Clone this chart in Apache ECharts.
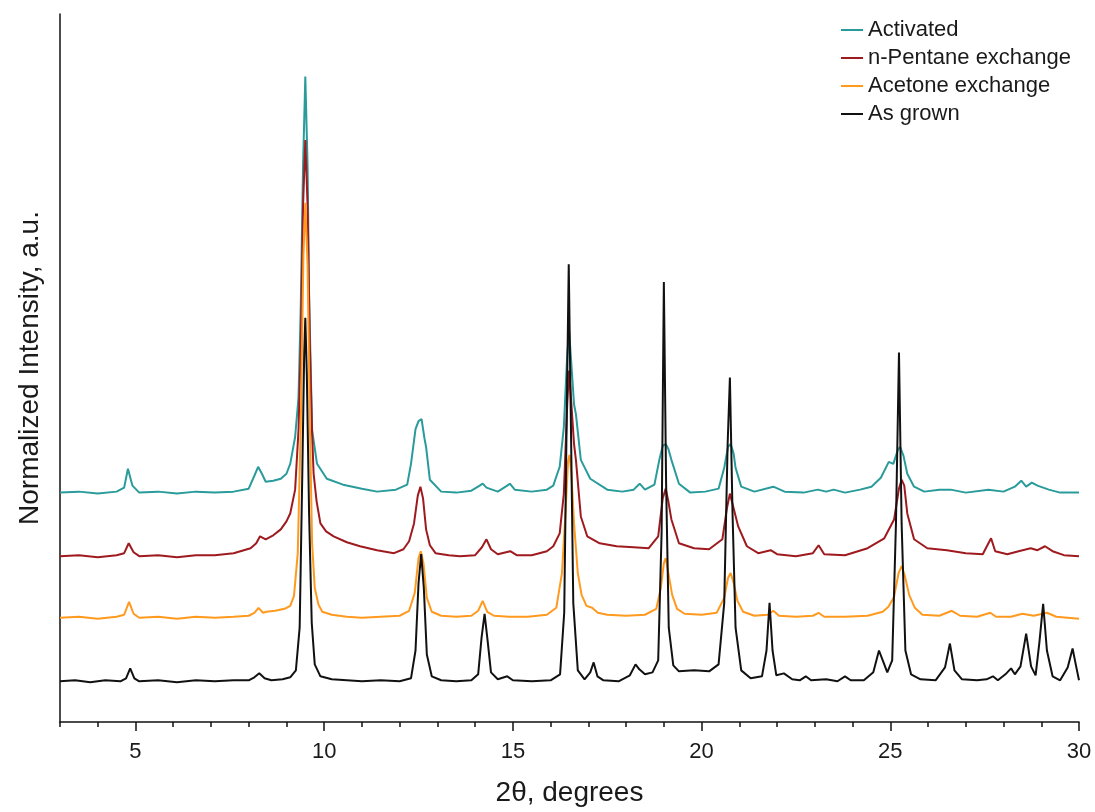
<!DOCTYPE html>
<html>
<head>
<meta charset="utf-8">
<script src="https://cdn.jsdelivr.net/npm/echarts@6/dist/echarts.min.js"></script>
<style>
  html, body { margin: 0; padding: 0; background: #fff; }
  #chart { width: 1095px; height: 812px; }
</style>
</head>
<body>
<div id="chart"></div>
<script>
// 2θ positions (degrees) and intensities (a.u.); patterns are already offset
const activated = [
  [3.0,231],[3.5,232],[4.0,230],[4.5,232],[4.7,236],[4.8,255],[4.92,238],[5.1,231],[5.6,232],[6.1,230],
  [6.6,232],[7.1,231],[7.6,232],[8.0,235],[8.15,248],[8.25,257],[8.35,250],[8.45,242],[8.65,243],[8.85,245],
  [9.0,250],[9.1,260],[9.23,287],[9.32,327],[9.38,420],[9.44,560],[9.5,650],[9.56,560],[9.6,430],[9.68,294],
  [9.81,260],[10.07,245],[10.5,239],[11.0,235],[11.4,232],[11.9,234],[12.2,239],[12.3,260],[12.42,295],[12.5,303],
  [12.58,305],[12.66,285],[12.7,277],[12.8,244],[13.1,232],[13.5,231],[13.9,233],[14.12,238],[14.2,240],[14.3,236],
  [14.6,232],[14.85,238],[14.92,240],[15.05,234],[15.5,232],[15.9,234],[16.07,238],[16.24,257],[16.35,297],[16.44,370],
  [16.49,394],[16.55,360],[16.62,320],[16.67,310],[16.8,264],[17.05,245],[17.5,234],[17.9,232],[18.2,234],[18.36,240],
  [18.5,234],[18.75,239],[18.88,264],[18.97,278],[19.05,280],[19.12,275],[19.2,264],[19.4,240],[19.7,231],[20.1,232],
  [20.45,235],[20.6,256],[20.7,277],[20.77,280],[20.85,270],[20.9,256],[21.05,237],[21.4,232],[21.9,237],[22.2,232],
  [22.7,231],[23.08,234],[23.3,232],[23.5,234],[23.8,231],[24.2,234],[24.5,237],[24.75,246],[24.96,262],[25.08,260],
  [25.2,274],[25.26,277],[25.35,268],[25.45,250],[25.63,237],[25.9,232],[26.3,234],[26.6,234],[27.0,231],[27.6,234],
  [28.0,232],[28.3,237],[28.47,243],[28.6,237],[28.75,241],[28.9,238],[29.2,234],[29.5,231],[30.0,231]
];
const pentane = [
  [3.0,167],[3.5,168],[4.0,166],[4.5,168],[4.7,170],[4.82,180],[4.95,171],[5.1,167],[5.6,168],[6.1,166],
  [6.6,168],[7.1,168],[7.6,170],[8.05,175],[8.2,180],[8.3,187],[8.45,184],[8.65,188],[8.85,194],[9.0,202],
  [9.1,210],[9.23,234],[9.32,294],[9.38,380],[9.44,520],[9.5,586],[9.56,520],[9.62,380],[9.68,290],[9.72,250],
  [9.8,222],[9.9,200],[10.05,192],[10.25,187],[10.6,181],[10.95,177],[11.4,173],[11.85,170],[12.1,174],[12.25,182],
  [12.38,200],[12.48,228],[12.55,237],[12.62,225],[12.7,194],[12.8,178],[12.95,170],[13.3,168],[13.6,167],[14.0,168],
  [14.18,176],[14.3,184],[14.42,174],[14.6,169],[14.93,172],[15.1,168],[15.5,168],[15.9,172],[16.07,177],[16.24,190],
  [16.35,230],[16.44,320],[16.49,354],[16.55,320],[16.62,280],[16.67,264],[16.8,207],[16.97,187],[17.3,180],[17.75,177],
  [18.2,176],[18.6,175],[18.85,187],[18.97,225],[19.05,235],[19.12,222],[19.2,204],[19.4,180],[19.8,175],[20.2,174],
  [20.55,184],[20.67,215],[20.75,230],[20.83,218],[20.97,197],[21.2,177],[21.5,170],[21.83,173],[22.0,169],[22.5,167],
  [22.95,170],[23.1,178],[23.25,169],[23.8,168],[24.4,175],[24.84,185],[25.1,204],[25.23,235],[25.3,244],[25.37,238],
  [25.45,210],[25.63,184],[25.98,175],[26.5,173],[27.0,170],[27.45,169],[27.6,180],[27.67,185],[27.78,172],[28.1,169],
  [28.4,172],[28.72,175],[28.9,173],[29.1,177],[29.3,172],[29.6,168],[30.0,167]
];
const acetone = [
  [3.0,105],[3.5,106],[4.0,104],[4.5,106],[4.7,108],[4.83,121],[4.95,109],[5.1,105],[5.6,106],[6.1,104],
  [6.6,106],[7.1,105],[7.6,106],[8.0,107],[8.15,110],[8.26,115],[8.38,110],[8.47,111],[8.7,112],[8.95,114],
  [9.1,117],[9.2,127],[9.3,170],[9.38,300],[9.45,470],[9.5,523],[9.56,460],[9.62,300],[9.68,180],[9.75,135],
  [9.85,118],[9.95,111],[10.2,108],[10.6,106],[11.0,105],[11.5,106],[12.0,107],[12.25,112],[12.4,130],[12.5,165],
  [12.56,172],[12.63,160],[12.72,125],[12.85,111],[13.1,107],[13.5,106],[13.9,107],[14.08,112],[14.2,122],[14.32,111],
  [14.5,107],[14.9,106],[15.4,106],[15.9,108],[16.15,115],[16.3,150],[16.4,215],[16.46,262],[16.5,269],[16.55,250],
  [16.62,200],[16.72,150],[16.82,128],[16.95,117],[17.1,115],[17.25,110],[17.5,108],[18.0,107],[18.5,108],[18.8,114],
  [18.92,135],[19.0,160],[19.05,165],[19.12,150],[19.22,128],[19.35,114],[19.55,109],[20.0,108],[20.4,110],[20.6,125],
  [20.7,145],[20.77,150],[20.85,140],[20.95,122],[21.1,111],[21.4,107],[21.75,108],[21.9,112],[22.05,107],[22.5,106],
  [22.95,107],[23.1,110],[23.25,106],[23.8,106],[24.4,107],[24.8,111],[24.95,116],[25.1,126],[25.22,150],[25.3,157],
  [25.38,148],[25.5,128],[25.65,115],[25.85,108],[26.3,107],[26.63,112],[26.85,107],[27.3,106],[27.65,110],[27.8,106],
  [28.2,106],[28.5,109],[28.8,107],[29.15,110],[29.4,106],[29.7,105],[30.0,104]
];
const asGrown = [
  [3.0,41],[3.4,42],[3.8,40],[4.2,42],[4.6,41],[4.75,44],[4.86,54],[4.97,44],[5.1,41],[5.6,42],
  [6.1,40],[6.6,42],[7.1,41],[7.6,42],[8.0,42],[8.15,45],[8.28,49],[8.42,44],[8.6,42],[8.9,43],
  [9.1,45],[9.25,52],[9.35,95],[9.42,250],[9.47,370],[9.5,407],[9.54,350],[9.6,210],[9.67,100],[9.75,58],
  [9.9,46],[10.2,43],[10.6,42],[11.0,41],[11.5,42],[12.0,41],[12.3,44],[12.42,72],[12.5,140],[12.57,169],
  [12.64,135],[12.72,68],[12.85,46],[13.1,42],[13.5,41],[13.9,42],[14.08,48],[14.17,85],[14.25,109],[14.33,82],
  [14.42,50],[14.6,43],[14.85,46],[15.0,42],[15.5,41],[16.0,42],[16.25,48],[16.36,110],[16.43,320],[16.48,461],
  [16.53,320],[16.6,120],[16.72,52],[16.9,43],[17.05,50],[17.14,60],[17.24,46],[17.4,42],[17.8,41],[18.1,47],
  [18.25,58],[18.35,53],[18.5,48],[18.7,50],[18.85,62],[18.94,190],[19.0,443],[19.06,240],[19.13,95],[19.25,57],
  [19.4,51],[19.8,52],[20.2,51],[20.45,58],[20.6,120],[20.69,280],[20.75,347],[20.82,210],[20.9,95],[21.05,52],
  [21.3,44],[21.6,46],[21.72,72],[21.8,120],[21.88,72],[21.98,47],[22.18,49],[22.4,43],[22.6,42],[22.76,46],
  [22.9,42],[23.3,43],[23.6,41],[23.8,46],[23.95,42],[24.3,42],[24.55,50],[24.7,72],[24.82,60],[24.92,50],
  [25.05,62],[25.15,200],[25.23,372],[25.3,200],[25.4,72],[25.55,48],[25.8,43],[26.2,42],[26.45,55],[26.58,79],
  [26.7,52],[26.9,43],[27.3,42],[27.55,43],[27.72,46],[27.85,42],[28.05,48],[28.2,54],[28.3,48],[28.45,56],
  [28.6,89],[28.73,56],[28.85,47],[28.95,80],[29.05,119],[29.15,72],[29.3,46],[29.5,42],[29.7,55],[29.83,74],
  [29.93,55],[30.0,42]
];

// axis ticks
const minorTicks = [3,4,5,6,7,8,9,10,11,12,13,14,15,16,17,18,19,20,21,22,23,24,25,26,27,28,29,30];
const majorTicks = [5, 10, 15, 20, 25, 30];

const seriesNames = ['Activated', 'n-Pentane exchange', 'Acetone exchange', 'As grown'];
const seriesColors = ['#2a9b9b', '#9e1a1e', '#ff9a1f', '#111111'];
const seriesData = [activated, pentane, acetone, asGrown];

const font = '"Liberation Sans", Arial, sans-serif';

const chart = echarts.init(document.getElementById('chart'));

const option = {
  animation: false,
  backgroundColor: '#ffffff',
  grid: { left: 60, right: 16, top: 14, bottom: 85 },
  legend: {
    orient: 'vertical',
    left: 836,
    top: 14,
    itemGap: 6,
    itemWidth: 22,
    itemHeight: 2,
    icon: 'rect',
    data: seriesNames,
    textStyle: { fontFamily: font, fontSize: 22, color: '#1a1a1a' }
  },
  xAxis: [
    {
      type: 'value',
      min: 3,
      max: 30,
      name: '2θ, degrees',
      nameLocation: 'middle',
      nameGap: 57,
      nameTextStyle: { fontFamily: font, fontSize: 28, color: '#1a1a1a' },
      axisLine: { show: true, lineStyle: { color: '#111', width: 1.5 } },
      axisTick: { show: true, customValues: minorTicks, length: 5, lineStyle: { color: '#111', width: 1.5 } },
      axisLabel: { show: false },
      splitLine: { show: false }
    },
    {
      type: 'value',
      min: 3,
      max: 30,
      position: 'bottom',
      axisLine: { show: false },
      axisTick: { show: true, customValues: majorTicks, length: 9, lineStyle: { color: '#111', width: 1.5 } },
      axisLabel: {
        show: true,
        customValues: majorTicks,
        margin: 19,
        fontFamily: font,
        fontSize: 22,
        color: '#1a1a1a'
      },
      splitLine: { show: false }
    }
  ],
  yAxis: {
    type: 'value',
    min: 0,
    max: 713,
    name: 'Normalized Intensity, a.u.',
    nameLocation: 'middle',
    nameGap: 16,
    nameTextStyle: { fontFamily: font, fontSize: 28, color: '#1a1a1a' },
    axisLine: { show: true, lineStyle: { color: '#111', width: 1.5 } },
    axisTick: { show: false },
    axisLabel: { show: false },
    splitLine: { show: false }
  },
  series: seriesNames.map((name, i) => ({
    name: name,
    type: 'line',
    xAxisIndex: 0,
    data: seriesData[i],
    showSymbol: false,
    symbol: 'none',
    z: 2 + i,
    lineStyle: { color: seriesColors[i], width: 2 },
    itemStyle: { color: seriesColors[i] }
  }))
};

chart.setOption(option);
</script>
</body>
</html>
